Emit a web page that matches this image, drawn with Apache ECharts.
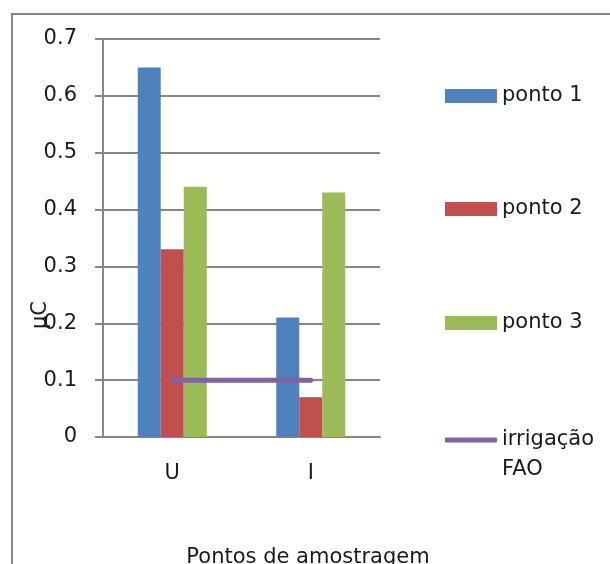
<!DOCTYPE html>
<html>
<head>
<meta charset="utf-8">
<script src="https://cdn.jsdelivr.net/npm/echarts@6/dist/echarts.min.js"></script>
<style>
  html, body { margin: 0; padding: 0; background: #fff; }
  #chart { width: 610px; height: 564px; }
</style>
</head>
<body>
<div id="chart"></div>
<script>
// Sampling sites on the x axis
const categories = ['U', 'I'];
// Measured values per sampling point
const ponto1 = [0.65, 0.21];
const ponto2 = [0.33, 0.07];
const ponto3 = [0.44, 0.43];
// FAO irrigation reference level
const irrigacaoFAO = [0.1, 0.1];
// Value axis ticks
const yTicks = [0, 0.1, 0.2, 0.3, 0.4, 0.5, 0.6, 0.7];

const FONT = 'DejaVu Sans';
const TEXT = '#1a1a1a';
const GRID = '#868686';

const chart = echarts.init(document.getElementById('chart'), null, { renderer: 'canvas' });

function legendAt(name, top, extra) {
  return Object.assign({
    data: [name],
    left: 445,
    top: top,
    padding: 0,
    orient: 'vertical',
    icon: 'rect',
    itemWidth: 52,
    itemHeight: 14,
    selectedMode: false,
    textStyle: { fontFamily: FONT, fontSize: 21, color: TEXT, lineHeight: 24 }
  }, extra || {});
}

chart.setOption({
  animation: false,
  backgroundColor: '#ffffff',
  textStyle: { fontFamily: FONT },
  grid: { left: 103, right: 230, top: 39, bottom: 127, containLabel: false },
  graphic: [
    {
      type: 'rect',
      shape: { x: 12, y: 14, width: 700, height: 700 },
      style: { fill: 'none', stroke: GRID, lineWidth: 2 },
      silent: true
    },
    {
      type: 'text',
      x: 308, y: 558,
      style: { text: 'Pontos de amostragem', font: '21px "DejaVu Sans"', fill: TEXT, align: 'center', verticalAlign: 'middle' }
    },
    {
      type: 'text',
      x: 41, y: 315,
      rotation: Math.PI / 2,
      style: { text: 'µC', font: '21px "DejaVu Sans"', fill: TEXT, align: 'center', verticalAlign: 'middle' }
    }
  ],
  legend: [
    legendAt('ponto 1', 84),
    legendAt('ponto 2', 197),
    legendAt('ponto 3', 311),
    // Label wraps onto two lines; the empty first line keeps "irrigação" level with the swatch
    legendAt('irrigação FAO', 395, {
      icon: 'roundRect',
      itemHeight: 5,
      itemStyle: { color: '#8064A2' },
      formatter: function () { return '\nirrigação\nFAO'; },
      textStyle: { fontFamily: FONT, fontSize: 21, color: TEXT, lineHeight: 30 }
    })
  ],
  xAxis: {
    type: 'category',
    data: categories,
    axisLine: { show: true, lineStyle: { color: GRID, width: 2 } },
    axisTick: { show: false },
    axisLabel: { fontFamily: FONT, fontSize: 21, color: TEXT, margin: 26 }
  },
  yAxis: {
    type: 'value',
    min: yTicks[0],
    max: yTicks[yTicks.length - 1],
    interval: 0.1,
    axisLine: { show: true, lineStyle: { color: GRID, width: 2 } },
    axisTick: { show: true, length: 8, lineStyle: { color: GRID, width: 2 } },
    splitLine: { show: true, lineStyle: { color: GRID, width: 2 } },
    axisLabel: {
      fontFamily: FONT, fontSize: 21, color: TEXT, margin: 26,
      formatter: function (v) { return (Math.round(v * 10) / 10).toString(); }
    }
  },
  series: [
    { name: 'ponto 1', type: 'bar', data: ponto1, barWidth: 23, barGap: '0%', itemStyle: { color: '#4F81BD' } },
    { name: 'ponto 2', type: 'bar', data: ponto2, barWidth: 23, barGap: '0%', itemStyle: { color: '#C0504D' } },
    { name: 'ponto 3', type: 'bar', data: ponto3, barWidth: 23, barGap: '0%', itemStyle: { color: '#9BBB59' } },
    {
      name: 'irrigação FAO', type: 'line', data: irrigacaoFAO, symbol: 'none', z: 5,
      lineStyle: { color: '#8064A2', width: 5, cap: 'round' },
      itemStyle: { color: '#8064A2' }
    }
  ]
});
</script>
</body>
</html>
